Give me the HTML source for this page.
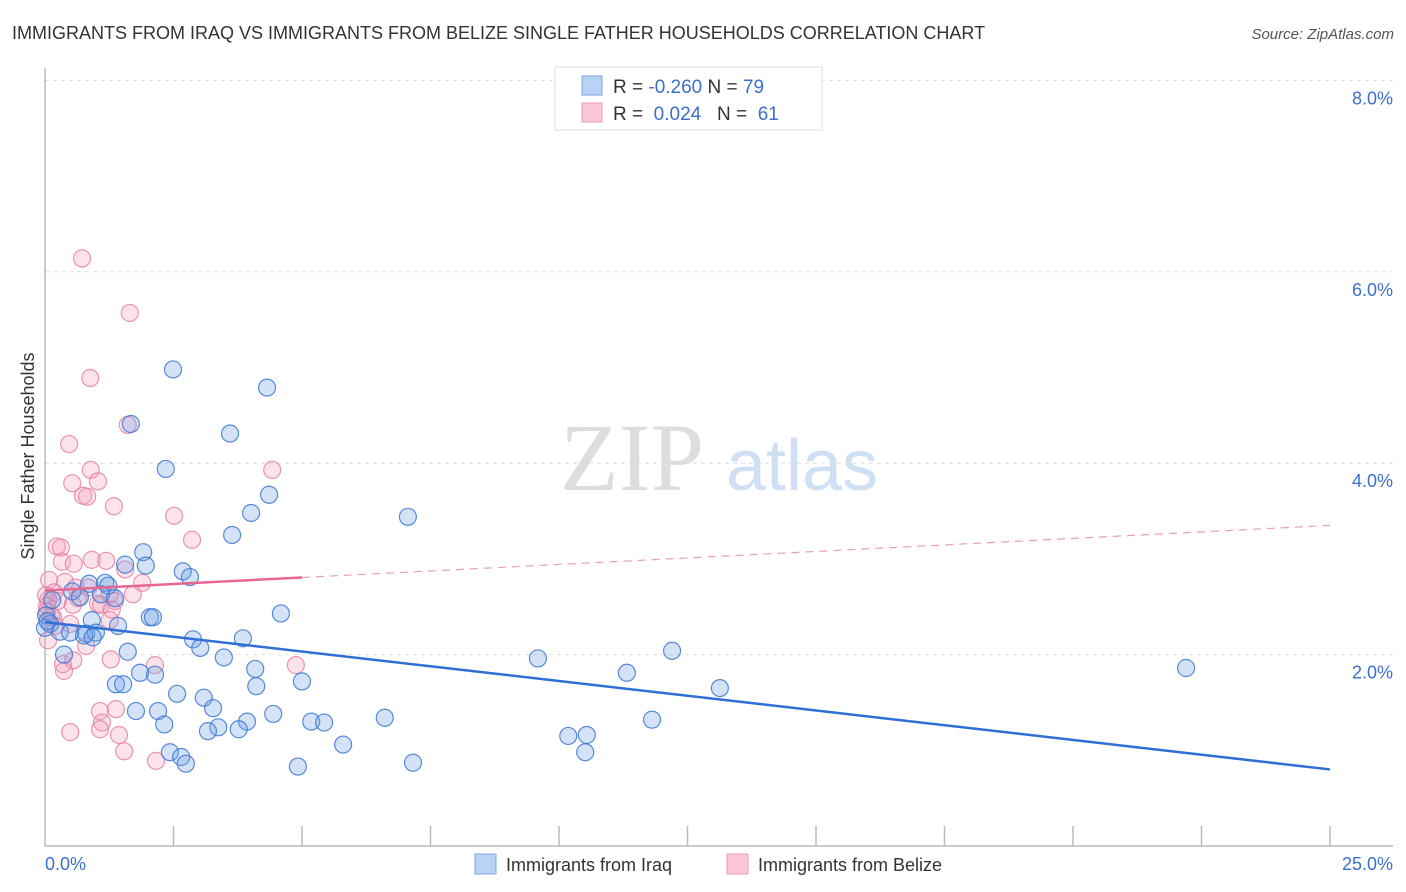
<!DOCTYPE html>
<html><head><meta charset="utf-8"><style>
body{margin:0;background:#fff;font-family:"Liberation Sans",sans-serif;}
svg{display:block}
</style></head><body>
<svg id="chart" width="1406" height="892" xmlns="http://www.w3.org/2000/svg">
<text x="12" y="39" font-size="18" fill="#333">IMMIGRANTS FROM IRAQ VS IMMIGRANTS FROM BELIZE SINGLE FATHER HOUSEHOLDS CORRELATION CHART</text>
<text x="1394" y="39" font-size="15" fill="#555" font-style="italic" text-anchor="end">Source: ZipAtlas.com</text>
<g>
<text x="632" y="490" font-size="96" fill="#ddd" text-anchor="middle" font-family="Liberation Serif,serif">ZIP</text>
<text x="802" y="490" font-size="72" fill="#cfe0f5" text-anchor="middle">atlas</text>
</g>
<g id="grid"></g>
<g id="axes"></g>
<g id="pts"></g>
<g id="trends"></g>
<text transform="translate(34,456) rotate(-90)" font-size="18" fill="#333" text-anchor="middle">Single Father Households</text>
<g>
<rect x="555" y="67" width="267" height="63" fill="#fff" stroke="#ddd"/>
<rect x="582" y="76" width="20" height="19" fill="#b9d3f5" stroke="#7aa6e3"/>
<rect x="582" y="103" width="20" height="19" fill="#fbc6d6" stroke="#ee9ab6"/>
<text x="613" y="93" font-size="19" fill="#333">R = <tspan fill="#3b6fd0">-0.260</tspan>   N = <tspan fill="#3b6fd0">79</tspan></text>
<text x="613" y="120" font-size="19" fill="#333" xml:space="preserve">R =  <tspan fill="#3b6fd0">0.024</tspan>   N =  <tspan fill="#3b6fd0">61</tspan></text>
</g>
<g>
<rect x="475" y="854" width="21" height="20" fill="#b9d3f5" stroke="#7aa6e3"/>
<text x="506" y="871" font-size="18" fill="#333">Immigrants from Iraq</text>
<rect x="727" y="854" width="21" height="20" fill="#fbc6d6" stroke="#ee9ab6"/>
<text x="758" y="871" font-size="18" fill="#333">Immigrants from Belize</text>
</g>
</svg>
<script>
const yTicks=[2,4,6,8];
const xTickLabels=["0.0%","25.0%"];
const iraqX=[2.49,4.32,3.60,1.67,2.35,4.36,7.06,4.01,3.64,1.91,1.56,1.96,2.68,2.82,0.86,1.17,1.23,0.53,1.09,0.68,1.36,0.14,4.59,2.04,2.10,0.02,0.91,1.42,0.10,0.29,0.49,0.80,0.99,0.76,0.93,2.88,3.85,3.02,1.61,0.37,12.2,9.59,3.48,4.09,1.85,2.14,11.32,22.2,5.0,1.38,1.52,4.11,13.13,2.57,3.09,3.27,1.77,2.20,4.44,6.61,2.32,3.37,3.93,5.18,5.43,11.81,3.17,3.77,10.18,10.54,5.80,2.43,2.65,10.51,2.74,4.92,7.16,0.0,0.05];
const iraqY=[4.98,4.79,4.31,4.41,3.94,3.67,3.44,3.48,3.25,3.07,2.94,2.93,2.87,2.81,2.74,2.75,2.72,2.66,2.63,2.60,2.59,2.57,2.43,2.39,2.39,2.41,2.36,2.30,2.32,2.24,2.23,2.22,2.23,2.20,2.18,2.16,2.17,2.07,2.03,2.00,2.04,1.96,1.97,1.85,1.81,1.79,1.81,1.86,1.72,1.69,1.69,1.67,1.65,1.59,1.55,1.44,1.41,1.41,1.38,1.34,1.27,1.24,1.30,1.30,1.29,1.32,1.20,1.22,1.15,1.16,1.06,0.98,0.93,0.98,0.86,0.83,0.87,2.28,2.35];
const belizeX=[0.72,1.65,0.88,1.61,0.47,0.89,4.42,0.53,1.03,0.74,0.82,1.34,2.51,2.86,0.23,0.31,0.91,1.19,0.33,0.56,1.56,1.89,0.08,0.39,0.60,0.84,0.18,1.71,1.26,0.06,0.25,0.64,1.36,0.04,0.54,1.03,1.09,0.04,0.16,0.49,1.30,1.26,0.80,0.35,0.55,1.28,2.14,4.88,0.37,1.07,1.38,1.11,1.07,0.49,1.44,1.54,2.16,0.06,0.02,0.12,0.20];
const belizeY=[6.14,5.57,4.89,4.40,4.20,3.93,3.93,3.79,3.81,3.66,3.65,3.55,3.45,3.20,3.13,3.12,2.99,2.98,2.97,2.95,2.89,2.75,2.78,2.76,2.70,2.70,2.65,2.63,2.63,2.57,2.56,2.59,2.56,2.51,2.52,2.53,2.52,2.45,2.39,2.32,2.47,2.36,2.09,1.90,1.94,1.95,1.89,1.89,1.83,1.41,1.43,1.29,1.22,1.19,1.16,0.99,0.89,2.15,2.62,2.40,2.30];
const iraqTrend=[2.34,0.80];
const belizeTrend=[2.67,3.35];
const belizeSolidEnd=5;
const NS="http://www.w3.org/2000/svg";
const X=v=>45+v*(1330-45)/25;
const Y=v=>846-v*95.7;
function mk(t,a,p){const e=document.createElementNS(NS,t);for(const k in a)e.setAttribute(k,a[k]);p.appendChild(e);return e;}
const grid=document.getElementById('grid'),axes=document.getElementById('axes'),pts=document.getElementById('pts'),tr=document.getElementById('trends');
yTicks.forEach(t=>{
 const l=mk('line',{x1:45,x2:1393,y1:Y(t),y2:Y(t),stroke:'#ddd','stroke-dasharray':'4,4'},grid);
 
 
 const tx=mk('text',{x:1393,y:Y(t)+24,'font-size':18,fill:'#3b6fd0','text-anchor':'end'},grid);
 tx.textContent=t.toFixed(1)+'%';
 
 
});
const ax=mk('path',{d:'M45,68V846H1393',fill:'none',stroke:'#bbb','stroke-width':1.5},axes);


for(let i=1;i<=10;i++){
 const t=mk('line',{x1:X(i*2.5),x2:X(i*2.5),y1:826,y2:846,stroke:'#bbb','stroke-width':1.5},axes);
 
 
}
[[0,'start',45],[25,'end',1393]].forEach((d,i)=>{
 const t=mk('text',{x:d[2],y:870,'font-size':18,fill:'#3b6fd0','text-anchor':d[1]},axes);
 t.textContent=xTickLabels[i];
 
 
});
function plot(xs,ys,fill,stroke,name){
 xs.forEach((x,i)=>{
  const c=mk('circle',{cx:X(x),cy:Y(ys[i]),r:8.5,fill:fill,stroke:stroke,'stroke-width':1.2},pts);
  
  
 });
}
plot(belizeX,belizeY,'rgba(244,160,190,0.3)','rgba(232,130,165,0.85)','belize-point');
plot(iraqX,iraqY,'rgba(110,160,230,0.3)','rgba(60,120,210,0.85)','iraq-point');
const bl=mk('line',{x1:X(0),y1:Y(iraqTrend[0]),x2:X(25),y2:Y(iraqTrend[1]),stroke:'#2f6fd6','stroke-width':2.5},tr);


const pm=belizeTrend[0]+(belizeTrend[1]-belizeTrend[0])*belizeSolidEnd/25;
const p1=mk('line',{x1:X(0),y1:Y(belizeTrend[0]),x2:X(belizeSolidEnd),y2:Y(pm),stroke:'#e8678f','stroke-width':2.5},tr);


const p2=mk('line',{x1:X(belizeSolidEnd),y1:Y(pm),x2:X(25),y2:Y(belizeTrend[1]),stroke:'#e8a0b8','stroke-width':1.2,'stroke-dasharray':'8,6'},tr);


</script>
</body></html>
